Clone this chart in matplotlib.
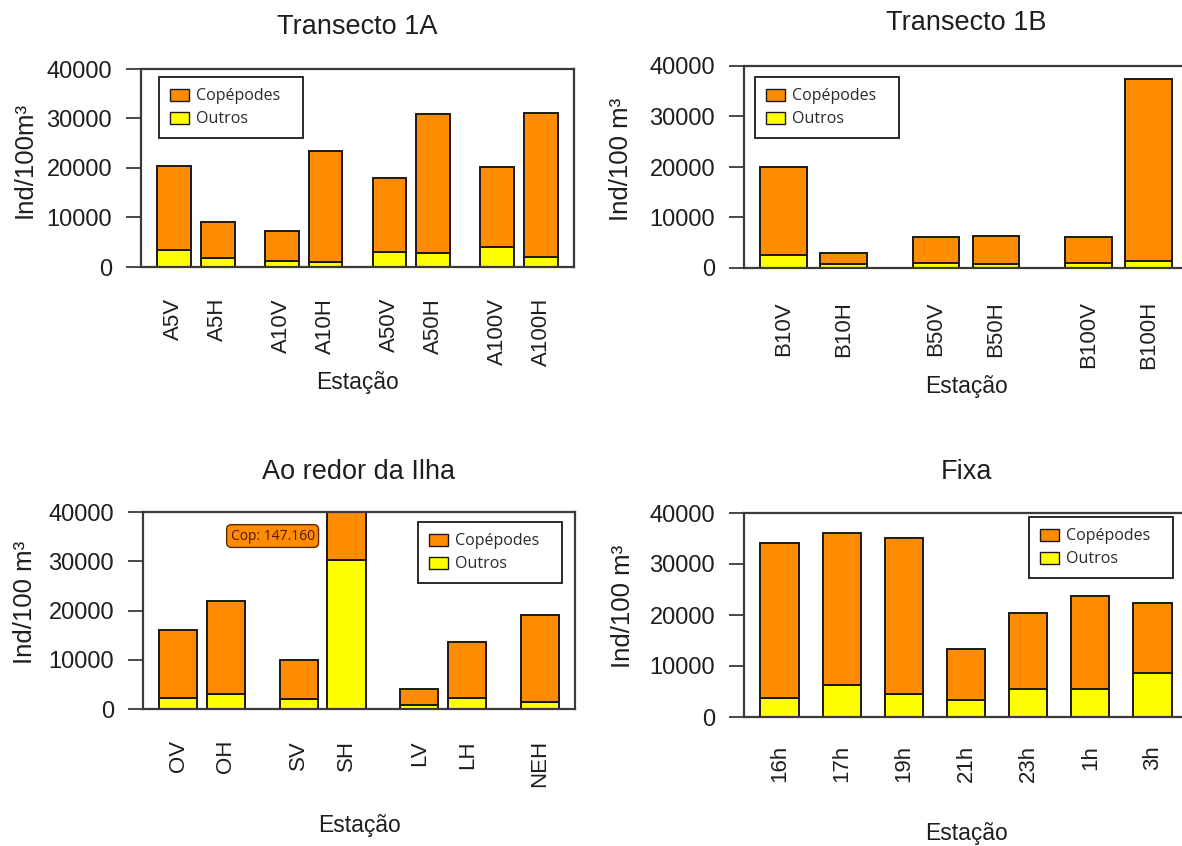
import matplotlib
matplotlib.use("Agg")
import matplotlib.pyplot as plt
from matplotlib.patches import Patch

plt.rcParams['font.family'] = ['Liberation Sans', 'DejaVu Sans']

COP_COLOR = '#ff8c00'
OUT_COLOR = '#ffff00'
EDGE = '#1a1a1a'
FRAME = '#3a3a3a'
TXT = '#1e1e1e'

# Transecto 1A
t1a_labels = ['A5V', 'A5H', 'A10V', 'A10H', 'A50V', 'A50H', 'A100V', 'A100H']
t1a_cop = [17000, 7200, 6100, 22300, 14900, 28100, 16200, 29200]
t1a_out = [3500, 1800, 1200, 1100, 3100, 2900, 4000, 2000]

# Transecto 1B
t1b_labels = ['B10V', 'B10H', 'B50V', 'B50H', 'B100V', 'B100H']
t1b_cop = [17400, 2200, 5100, 5600, 5300, 36100]
t1b_out = [2600, 700, 1000, 700, 900, 1300]

# Ao redor da Ilha
ilha_labels = ['OV', 'OH', 'SV', 'SH', 'LV', 'LH', 'NEH']
ilha_cop = [13800, 19000, 8000, 147160, 3200, 11500, 17500]
ilha_out = [2200, 3000, 2000, 30300, 800, 2200, 1500]

# Fixa
fixa_labels = ['16h', '17h', '19h', '21h', '23h', '1h', '3h']
fixa_cop = [30400, 29800, 30400, 9900, 14900, 18300, 13600]
fixa_out = [3800, 6200, 4600, 3400, 5400, 5400, 8700]

W, H = 1182, 846
fig = plt.figure(figsize=(W / 100, H / 100), dpi=100)
fig.patch.set_facecolor('white')


def draw_panel(frame, gaps, labels, cop, out, title, ylab, ylab_x, legend_px,
               title_off, xlab_off, xtick_pad):
    left, top, right, bottom = frame
    ax = fig.add_axes([left / W, 1 - bottom / H, (right - left) / W, (bottom - top) / H])
    hpx = bottom - top
    wpx = right - left

    # bar lefts in bar-width units, R barplot style
    lefts = []
    x = 0.0
    for i in range(len(labels)):
        lefts.append(x)
        x += 1 + (gaps[i] if i < len(gaps) else 0)
    span = lefts[-1] + 1
    centers = [l + 0.5 for l in lefts]

    ax.bar(centers, out, width=1, color=OUT_COLOR, edgecolor=EDGE, linewidth=1.4, zorder=2)
    ax.bar(centers, cop, width=1, bottom=out, color=COP_COLOR, edgecolor=EDGE,
           linewidth=1.4, zorder=2)

    ext = 0.04 * span
    ax.set_xlim(-ext, span + ext)
    ax.set_ylim(0, 40000)
    ax.set_yticks(range(0, 40001, 10000))
    ax.set_xticks(centers)
    ax.set_xticklabels(labels, rotation=90)
    ax.tick_params(axis='y', direction='out', length=10.8, width=1.3, pad=10,
                   labelsize=17, colors=FRAME, labelcolor=TXT)
    ax.tick_params(axis='x', length=0, pad=xtick_pad * 0.72, labelsize=16, labelcolor=TXT)
    for s in ax.spines.values():
        s.set_color(FRAME)
        s.set_linewidth(1.6)

    ax.set_title(title, fontsize=19.5, color=TXT, y=1 + title_off / hpx, va='center', pad=0)
    ax.set_xlabel('Estação', fontsize=16.5, color=TXT, va='center')
    ax.xaxis.set_label_coords(0.5, -xlab_off / hpx)
    ax.set_ylabel(ylab, fontsize=18.5, color=TXT, va='center')
    ax.yaxis.set_label_coords(-(left - ylab_x) / wpx, 0.54)

    lx, ly = legend_px
    handles = [Patch(facecolor=COP_COLOR, edgecolor=EDGE, label='Copépodes'),
               Patch(facecolor=OUT_COLOR, edgecolor=EDGE, label='Outros')]
    leg = ax.legend(handles=handles, loc='upper left', mode='expand',
                    bbox_to_anchor=((lx - left) / wpx, (bottom - ly) / hpx - 0.3, 144 / wpx, 0.3),
                    borderaxespad=0, fancybox=False, framealpha=1, edgecolor=EDGE,
                    prop={'family': ['Open Sans', 'DejaVu Sans'], 'size': 11.5},
                    handlelength=1.2, handleheight=0.8, handletextpad=0.4,
                    borderpad=0.7, labelspacing=0.44)
    leg.get_frame().set_linewidth(1.3)
    for t in leg.get_texts():
        t.set_color('#2a2a2a')
    return ax


draw_panel((141, 69, 574, 267), [0.3, 0.9, 0.3, 0.9, 0.3, 0.9, 0.3],
           t1a_labels, t1a_cop, t1a_out, 'Transecto 1A', 'Ind/100m³', 25,
           (159, 77), 42, 116, 31)

draw_panel((744, 66, 1188, 268), [0.3, 1.0, 0.3, 1.0, 0.3],
           t1b_labels, t1b_cop, t1b_out, 'Transecto 1B', 'Ind/100 m³', 621,
           (755, 77), 43, 119, 33)

ax3 = draw_panel((143, 512, 575, 709), [0.25, 0.9, 0.25, 0.9, 0.25, 0.9],
                 ilha_labels, ilha_cop, ilha_out, 'Ao redor da Ilha', 'Ind/100 m³', 25,
                 (418, 522), 40, 116, 31)

draw_panel((744, 513, 1188, 717), [0.63] * 6,
           fixa_labels, fixa_cop, fixa_out, 'Fixa', 'Ind/100 m³', 623,
           (1029, 517), 41, 116, 28)

# SH copepods run far above the axis, so the value is written in a tag
sh_cop = ilha_cop[ilha_labels.index('SH')]
ax3.text(0.30, 0.878, 'Cop: ' + f'{sh_cop:,}'.replace(',', '.'), transform=ax3.transAxes,
         ha='center', va='center', fontsize=10, color='#4a1800',
         family=['Open Sans', 'DejaVu Sans'],
         bbox=dict(boxstyle='round,pad=0.28,rounding_size=0.35', fc=COP_COLOR,
                   ec='#5a2a00', lw=1.0), zorder=5)

fig.savefig('out.png', dpi=100, facecolor='white')
